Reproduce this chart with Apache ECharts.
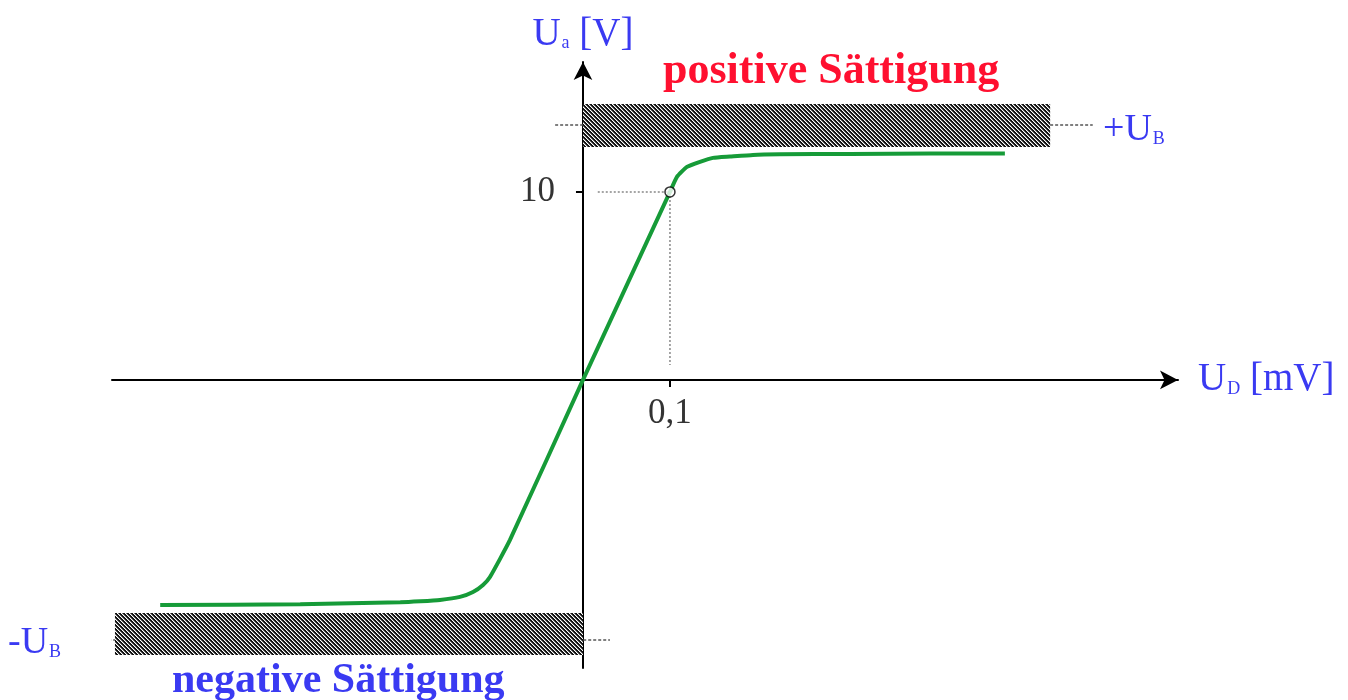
<!DOCTYPE html>
<html>
<head>
<meta charset="utf-8">
<title>Übertragungskennlinie OPV</title>
<script src="https://cdn.jsdelivr.net/npm/echarts@6/dist/echarts.min.js"></script>
<style>
  html, body { margin: 0; padding: 0; background: #fff; }
  #main { width: 1348px; height: 700px; }
</style>
</head>
<body>
<div id="main"></div>
<script>
// Kennlinie U_a(U_D)
const uD = [-0.486, -0.325, -0.21, -0.187, -0.1644, -0.1414, -0.1264, -0.1149, -0.1069, -0.0839, 0,
  0.1, 0.108, 0.1195, 0.1345, 0.1494, 0.169, 0.1954, 0.2264, 0.307, 0.40, 0.485];
const uA = [-11.97, -11.93, -11.82, -11.77, -11.70, -11.54, -11.28, -10.90, -10.48, -8.51, 0,
  10, 10.80, 11.33, 11.60, 11.81, 11.88, 11.97, 12.0, 12.02, 12.04, 12.05];

// Arbeitspunkt mit Hilfslinien
const markPoint = [0.1, 10];
const guideH = [[0.017, 10], [0.1, 10]];
const guideV = [[0.1, 10], [0.1, 0.8]];

// Betriebsspannung +/-U_B (gestrichelt)
const ubPos = [[-0.032, 13.56], [0.586, 13.56]];
const ubNeg = [[-0.563, -13.83], [0.031, -13.83]];

// Sättigungsbereiche: [x0, x1, y0, y1]
const satBars = [
  [0, 0.537, 12.39, 14.68],
  [-0.538, 0, -14.63, -12.39]
];

// Achsen
const xMin = -0.5414, xMax = 0.684;
const yMin = -15.32, yMax = 16.91;
const xTicks = [0.1];
const yTicks = [10];

const BLUE = '#3a3af2';
const RED = '#ff1030';
const SERIF = '"Liberation Serif", "DejaVu Serif", serif';

// Schraffur als Muster
const hatch = document.createElement('canvas');
hatch.width = 4;
hatch.height = 4;
const hctx = hatch.getContext('2d');
hctx.fillStyle = '#111';
hctx.fillRect(0, 0, 4, 4);
for (let i = 0; i < 4; i++) {
  hctx.fillStyle = '#fff';
  hctx.fillRect(i, i, 1, 1);
  hctx.fillStyle = '#777';
  hctx.fillRect((i + 1) % 4, i, 1, 1);
}

const chart = echarts.init(document.getElementById('main'));

const subRich = {
  u: { fontFamily: SERIF, fontSize: 39, color: BLUE },
  s: { fontFamily: SERIF, fontSize: 18, color: BLUE, padding: [18, 0, 0, 1] },
  t: { fontFamily: SERIF, fontSize: 39, color: BLUE }
};

const option = {
  animation: false,
  textStyle: { fontFamily: SERIF },
  grid: {
    left: 112,
    right: 170,
    top: 62,
    bottom: 32,
    containLabel: false,
    outerBoundsMode: 'none'
  },
  xAxis: {
    type: 'value',
    min: xMin,
    max: xMax,
    name: '{u|U}{s|D}{t| [mV]}',
    nameLocation: 'end',
    nameGap: 20,
    nameTextStyle: { rich: subRich, align: 'left', verticalAlign: 'middle' },
    axisLine: {
      onZero: true,
      symbol: ['none', 'arrow'],
      symbolSize: [14, 18],
      lineStyle: { color: '#000', width: 2 }
    },
    axisTick: { show: true, customValues: xTicks, length: 7, lineStyle: { color: '#000', width: 2 } },
    axisLabel: { show: false },
    splitLine: { show: false }
  },
  yAxis: {
    type: 'value',
    min: yMin,
    max: yMax,
    name: '{u|U}{s|a}{t| [V]}',
    nameLocation: 'end',
    nameGap: 8,
    nameTextStyle: { rich: subRich },
    axisLine: {
      onZero: true,
      symbol: ['none', 'arrow'],
      symbolSize: [14, 18],
      lineStyle: { color: '#000', width: 2 }
    },
    axisTick: { show: true, customValues: yTicks, length: 7, lineStyle: { color: '#000', width: 2 } },
    axisLabel: { show: false },
    splitLine: { show: false }
  },
  series: [
    // gestrichelte U_B Linien
    {
      type: 'line', data: ubPos, symbol: 'none', clip: false, z: 1,
      lineStyle: { color: '#555', width: 1.5, type: [3, 2] }
    },
    {
      type: 'line', data: ubNeg, symbol: 'none', clip: false, z: 1,
      lineStyle: { color: '#555', width: 1.5, type: [3, 2] }
    },
    // Sättigungsbalken
    {
      type: 'custom',
      data: satBars,
      clip: false,
      z: 2,
      encode: { x: [0, 1], y: [2, 3] },
      renderItem(params, api) {
        const p0 = api.coord([api.value(0), api.value(3)]);
        const p1 = api.coord([api.value(1), api.value(2)]);
        return {
          type: 'rect',
          shape: { x: p0[0], y: p0[1], width: p1[0] - p0[0], height: p1[1] - p0[1] },
          style: { fill: { image: hatch, repeat: 'repeat' } }
        };
      }
    },
    // Hilfslinien zum Arbeitspunkt
    {
      type: 'line', data: guideH, symbol: 'none', z: 3,
      lineStyle: { color: '#888', width: 1.5, type: [2, 2] }
    },
    {
      type: 'line', data: guideV, symbol: 'none', z: 3,
      lineStyle: { color: '#888', width: 1.5, type: [2, 2] }
    },
    // Kennlinie
    {
      type: 'line',
      data: uD.map((x, i) => [x, uA[i]]),
      symbol: 'none',
      smooth: 0.15,
      z: 4,
      lineStyle: { color: '#169b38', width: 4 }
    },
    // Arbeitspunkt
    {
      type: 'scatter',
      data: [markPoint],
      symbol: 'circle',
      symbolSize: 10,
      z: 5,
      itemStyle: { color: '#fff', borderColor: '#000', borderWidth: 1.5 }
    },
    // Achsbeschriftung an den Achsen (Achsen liegen im Nullpunkt)
    {
      type: 'scatter',
      data: xTicks.map(v => [v, 0]),
      symbolSize: 0,
      silent: true,
      label: {
        show: true, position: 'bottom', distance: 16,
        color: '#000', fontFamily: SERIF, fontSize: 35,
        formatter: p => String(p.value[0]).replace('.', ',')
      }
    },
    {
      type: 'scatter',
      data: yTicks.map(v => [0, v]),
      symbolSize: 0,
      silent: true,
      label: {
        show: true, position: 'left', distance: 28,
        color: '#000', fontFamily: SERIF, fontSize: 35,
        formatter: p => String(p.value[1])
      }
    }
  ],
  graphic: [
    {
      type: 'text', left: 663, top: 50,
      style: { text: 'positive Sättigung', fill: RED, font: 'bold 44px ' + SERIF }
    },
    {
      type: 'text', left: 172, top: 660,
      style: { text: 'negative Sättigung', fill: BLUE, font: 'bold 42px ' + SERIF }
    },
    {
      type: 'text', left: 1103, top: 111,
      style: {
        text: '{t|+U}{s|B}',
        rich: {
          t: { fontFamily: SERIF, fontSize: 38, fill: BLUE },
          s: { fontFamily: SERIF, fontSize: 18, fill: BLUE, padding: [18, 0, 0, 1] }
        }
      }
    },
    {
      type: 'text', left: 8, top: 624,
      style: {
        text: '{t|-U}{s|B}',
        rich: {
          t: { fontFamily: SERIF, fontSize: 38, fill: BLUE },
          s: { fontFamily: SERIF, fontSize: 18, fill: BLUE, padding: [18, 0, 0, 1] }
        }
      }
    }
  ]
};

chart.setOption(option);
</script>
</body>
</html>
